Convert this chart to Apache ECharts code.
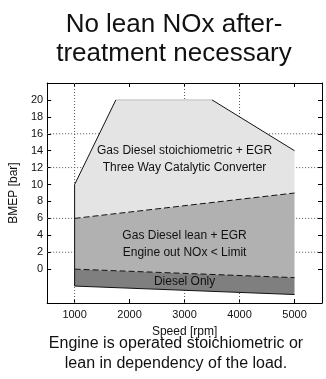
<!DOCTYPE html>
<html>
<head>
<meta charset="utf-8">
<script src="https://cdn.jsdelivr.net/npm/echarts@6/dist/echarts.min.js"></script>
<style>
  html, body { margin: 0; padding: 0; background: #fff; }
  #chart { width: 326px; height: 379px; }
</style>
</head>
<body>
<div id="chart"></div>
<script>
  // Operating map boundaries, [speed rpm, BMEP bar].
  const stoichTop = [[1000, 10], [1750, 20], [3500, 20], [5000, 14]];
  const leanTop = [[1000, 6], [5000, 9]];
  const dieselTop = [[1000, 0], [5000, -1]];
  const dieselBottom = [[1000, -2], [5000, -3]];

  // Axis ranges and tick values.
  const xRange = [500, 5500];
  const yRange = [-4, 22];
  const xTicks = [1000, 2000, 3000, 4000, 5000];
  const yTicks = [0, 2, 4, 6, 8, 10, 12, 14, 16, 18, 20];
  // Grid lines that show in the picture.
  const gridX = [1000, 3000, 4000];
  const gridY = [2, 6, 12, 16];

  // Region labels.
  const labelX = [3000, 3000, 3000, 3000, 3000];
  const labelY = [14, 12, 4, 2, -1.5];
  const labelText = ['Gas Diesel stoichiometric + EGR', 'Three Way Catalytic Converter',
    'Gas Diesel lean + EGR', 'Engine out NOx < Limit', 'Diesel Only'];

  const FONT = '"Liberation Sans", Arial, sans-serif';

  function region(points, fill) {
    return {
      type: 'custom',
      z: 6,
      silent: true,
      data: [points[0]],
      renderItem: function (params, api) {
        return {
          type: 'polygon',
          shape: { points: points.map(p => api.coord(p)) },
          style: { fill: fill, stroke: null }
        };
      }
    };
  }

  function edge(points, type, color, z) {
    return {
      type: 'line', z: z || 7, silent: true, symbol: 'none',
      data: points,
      lineStyle: { color: color || '#111', width: 1, type: type }
    };
  }

  const gridSeries = gridX.map(v => edge([[v, yRange[0]], [v, yRange[1]]], [1, 2], '#555', 1))
    .concat(gridY.map(v => edge([[xRange[0], v], [xRange[1], v]], [1, 2], '#555', 1)));

  const axisBase = {
    type: 'value',
    axisLine: { show: true, onZero: false, lineStyle: { color: '#000', width: 1 } },
    axisTick: { show: true, inside: true, length: 4, lineStyle: { color: '#000' } },
    splitLine: { show: false },
    axisLabel: { show: false }
  };

  const option = {
    animation: false,
    grid: { left: 40, right: 4, top: 83, bottom: 76 },
    xAxis: [
      Object.assign({}, axisBase, {
        min: xRange[0], max: xRange[1], position: 'bottom',
        name: 'Speed [rpm]', nameLocation: 'middle', nameGap: 23,
        nameTextStyle: { color: '#111', fontSize: 12, fontFamily: FONT },
        axisTick: Object.assign({}, axisBase.axisTick, { customValues: xTicks }),
        axisLabel: {
          show: true, customValues: xTicks, color: '#111', fontSize: 11, fontFamily: FONT, margin: 6,
          formatter: v => String(v)
        }
      }),
      Object.assign({}, axisBase, {
        min: xRange[0], max: xRange[1], position: 'top',
        axisTick: Object.assign({}, axisBase.axisTick, { customValues: xTicks })
      })
    ],
    yAxis: [
      Object.assign({}, axisBase, {
        min: yRange[0], max: yRange[1], position: 'left',
        name: 'BMEP [bar]', nameLocation: 'middle', nameGap: 25,
        nameTextStyle: { color: '#111', fontSize: 12, fontFamily: FONT },
        axisTick: Object.assign({}, axisBase.axisTick, { customValues: yTicks }),
        axisLabel: {
          show: true, customValues: yTicks, color: '#111', fontSize: 11, fontFamily: FONT, margin: 4,
          formatter: v => String(v)
        }
      }),
      Object.assign({}, axisBase, {
        min: yRange[0], max: yRange[1], position: 'right',
        axisTick: Object.assign({}, axisBase.axisTick, { customValues: yTicks })
      })
    ],
    graphic: [
      {
        type: 'text', left: 174 - 130, top: 10, z: 10,
        style: {
          text: 'No lean NOx after-\ntreatment necessary',
          font: '26px ' + FONT, fill: '#111', textAlign: 'center',
          lineHeight: 29, width: 260, x: 130
        }
      },
      {
        type: 'text', left: 176 - 140, top: 334, z: 10,
        style: {
          text: 'Engine is operated stoichiometric or\nlean in dependency of the load.',
          font: '16px ' + FONT, fill: '#111', textAlign: 'center',
          lineHeight: 20, width: 280, x: 140
        }
      }
    ],
    series: gridSeries.concat([
      region(stoichTop.concat(leanTop.slice().reverse()), '#e4e4e4'),
      region(leanTop.concat(dieselTop.slice().reverse()), '#b1b1b1'),
      region(dieselTop.concat(dieselBottom.slice().reverse()), '#7f7f7f'),
      edge([dieselBottom[0], stoichTop[0], stoichTop[1]], 'solid'),
      // the flat top edge is lighter in the picture
      edge([stoichTop[1], stoichTop[2]], 'solid', '#bbb'),
      edge([stoichTop[2], stoichTop[3]], 'solid'),
      edge(leanTop, [6, 3]),
      edge(dieselTop, [6, 3]),
      edge(dieselBottom, 'solid'),
      {
        type: 'custom', z: 8, silent: true,
        data: labelX.map((x, i) => [x, labelY[i]]),
        renderItem: function (params, api) {
          const p = api.coord([api.value(0), api.value(1)]);
          return {
            type: 'text',
            x: p[0], y: p[1],
            style: {
              text: labelText[params.dataIndex],
              font: '12px ' + FONT, fill: '#111',
              textAlign: 'center', textVerticalAlign: 'middle'
            }
          };
        }
      }
    ])
  };

  echarts.init(document.getElementById('chart')).setOption(option);
</script>
</body>
</html>
